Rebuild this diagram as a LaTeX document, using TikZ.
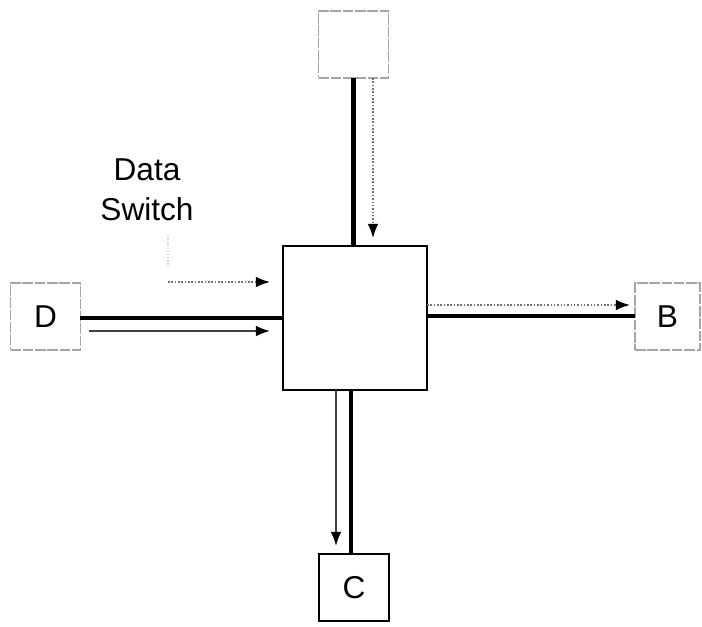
\documentclass[tikz,border=0pt]{standalone}
\usepackage{fontspec}
\setmainfont{Liberation Sans}
\usetikzlibrary{arrows.meta,positioning}

\begin{document}
\begin{tikzpicture}[
        x=0.02cm,
        y=-0.02cm,
        every node/.style={
            font=\fontsize{18}{23}\selectfont,
        },
        box/.style={
            rectangle,
            draw=black,
            line width=1.1pt,
            inner sep=0pt,
            outer sep=0pt,
        },
        faint/.style={
            draw=black!35,
            line width=0.8pt,
            dash pattern=on 6pt off 1pt,
        },
        port/.style={
            minimum width=1.4cm,
            minimum height=1.34cm,
        },
        trunk/.style={
            line width=2.4pt,
        },
        data/.style={
            black!55,
            line width=0.9pt,
            densely dotted,
            -{Latex[black,length=8pt,width=6pt]},
        },
        ctrl/.style={
            black!75,
            line width=1pt,
            -{Latex[black,length=8pt,width=6pt]},
        },
        pointer/.style={
            black!15,
            line width=0.8pt,
            densely dotted,
        },
    ]
        \path [fill=white, use as bounding box] (0,0) rectangle (702,626);

        \node [box, minimum size=2.88cm] (switch) at (355,318) {};
        \node [box, faint, port] (top) at (353.5,44.5) {};
        \node [box, port] (c) at (354,587.5) {C};
        \node [box, faint, port] (d) at (45.5,316.5) {D};
        \node [box, faint, port, minimum width=1.3cm] (b) at (667.5,316.5) {B};
        \node [align=center] (label) at (147,190) {Data\\Switch};

        \coordinate (datain) at (168,282);

        % top link
        \draw [trunk] (top.south) -- (top.south |- switch.north);
        \draw [data] ([xshift=0.39cm]top.south) -- ([xshift=0.39cm, yshift=0.16cm]top.south |- switch.north);

        % bottom link
        \draw [trunk] ([xshift=-0.08cm]switch.south) -- ([xshift=-0.08cm]switch.south |- c.north);
        \draw [ctrl] ([xshift=-0.38cm]switch.south) -- ([xshift=-0.38cm, yshift=0.16cm]switch.south |- c.north);

        % left link
        \draw [trunk] (d.east |- switch.west) -- (switch.west);
        \draw [ctrl] ([xshift=0.18cm, yshift=-0.26cm]d.east |- switch.west) -- ([xshift=-0.26cm, yshift=-0.26cm]switch.west);
        \draw [data] (datain) -- ([xshift=-0.26cm]switch.west |- datain);
        \draw [pointer] ([yshift=-0.15cm]label.south -| datain) -- ([yshift=0.35cm]datain);

        % right link
        \draw [trunk] ([yshift=0.04cm]switch.east) -- ([yshift=0.04cm]switch.east -| b.west);
        \draw [data] ([yshift=0.26cm]switch.east) -- ([xshift=-0.1cm, yshift=0.26cm]switch.east -| b.west);
    \end{tikzpicture}
\end{document}
